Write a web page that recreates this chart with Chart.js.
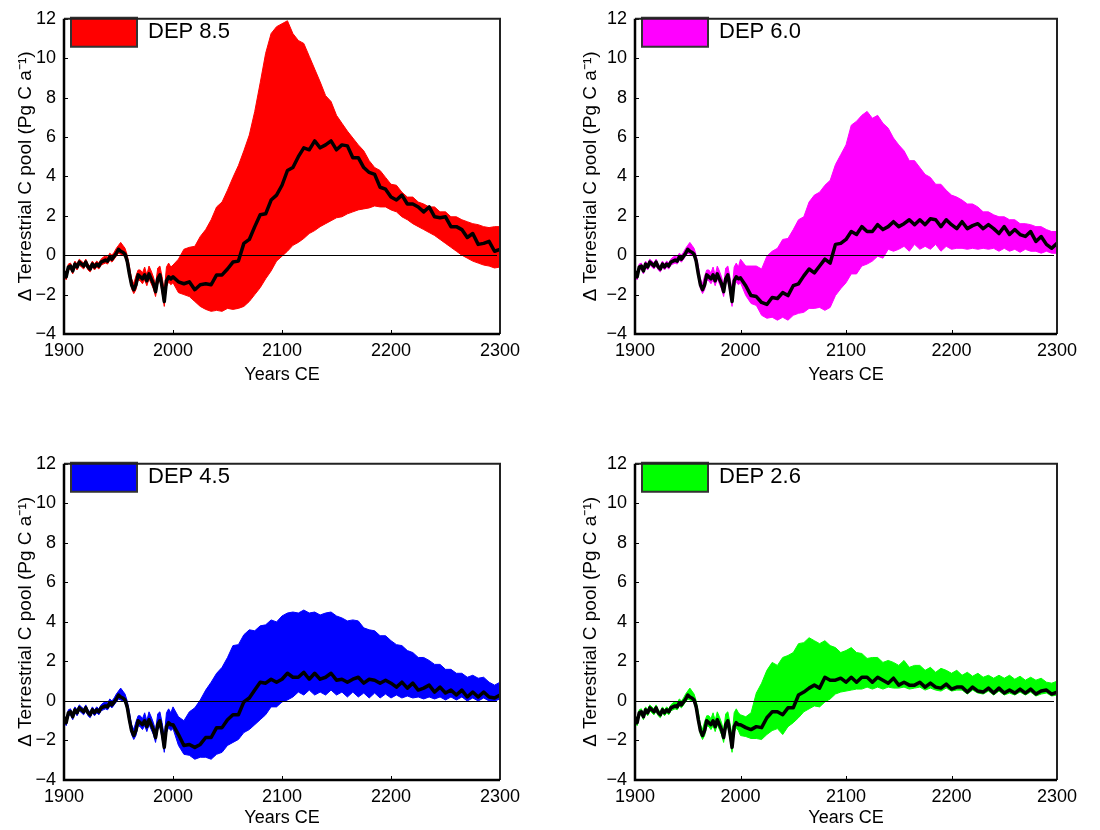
<!DOCTYPE html>
<html>
<head>
<meta charset="utf-8">
<script src="https://cdn.jsdelivr.net/npm/chart.js@4.4.1/dist/chart.umd.min.js"></script>
<style>
  html, body { margin: 0; padding: 0; background: #fff; }
  #wrap { position: relative; width: 1100px; height: 830px; overflow: hidden; }
  canvas { position: absolute; }
</style>
</head>
<body>
<div id="wrap">
  <canvas id="c85" width="550" height="420" style="left:0;top:0"></canvas>
  <canvas id="c60" width="540" height="420" style="left:560px;top:0"></canvas>
  <canvas id="c45" width="550" height="385" style="left:0;top:445px"></canvas>
  <canvas id="c26" width="540" height="385" style="left:560px;top:445px"></canvas>
</div>
<script>
// ── Data ──────────────────────────────────────────────────────────────────────
// Historical part (shared by all four scenarios), every 2 years
const HIST_YEARS = [1900,1902,1904,1906,1908,1910,1912,1914,1916,1918,1920,1922,1924,1926,1928,1930,1932,1934,1936,1938,
  1940,1942,1944,1946,1948,1950,1952,1954,1956,1958,1960,1962,1964,1966,1968,1970,1972,1974,1976,1978,
  1980,1982,1984,1986,1988,1990,1992,1994,1996,1998];
const HIST_MEAN  = [-0.85,-1.1,-0.6,-0.55,-0.8,-0.45,-0.6,-0.35,-0.45,-0.55,-0.35,-0.6,-0.7,-0.45,-0.6,-0.45,-0.55,-0.35,-0.3,-0.25,
  -0.3,-0.1,-0.2,-0.05,0.1,0.3,0.2,0.15,0.05,-0.3,-0.95,-1.5,-1.75,-1.5,-1.0,-1.1,-1.2,-1.0,-1.3,-0.95,
  -1.2,-1.45,-1.85,-1.2,-1.0,-1.6,-2.35,-1.3,-1.1,-1.2];
const HIST_UPPER = [-0.7,-0.95,-0.45,-0.4,-0.65,-0.3,-0.45,-0.2,-0.3,-0.4,-0.2,-0.45,-0.55,-0.3,-0.45,-0.3,-0.4,-0.2,-0.1,-0.05,
  -0.1,0.1,0.0,0.15,0.35,0.5,0.65,0.5,0.35,0.0,-0.55,-1.2,-1.45,-1.05,-0.75,-0.75,-0.9,-0.6,-1.0,-0.55,
  -0.8,-1.1,-1.5,-0.65,-0.55,-1.1,-1.8,-0.6,-0.4,-0.6];
const HIST_LOWER = [-1.0,-1.25,-0.75,-0.7,-0.95,-0.6,-0.75,-0.5,-0.6,-0.7,-0.5,-0.75,-0.85,-0.6,-0.75,-0.6,-0.7,-0.5,-0.45,-0.4,
  -0.45,-0.25,-0.35,-0.2,-0.05,0.1,0.05,0.0,-0.1,-0.5,-1.15,-1.7,-1.95,-1.75,-1.25,-1.3,-1.45,-1.25,-1.55,-1.2,
  -1.45,-1.7,-2.1,-1.45,-1.3,-1.9,-2.6,-1.6,-1.35,-1.5];

// Scenario part, every 5 years from 2000 to 2300
const FUT_YEARS = [2000,2005,2010,2015,2020,2025,2030,2035,2040,2045,2050,2055,2060,2065,2070,2075,2080,2085,2090,2095,
  2100,2105,2110,2115,2120,2125,2130,2135,2140,2145,2150,2155,2160,2165,2170,2175,2180,2185,2190,2195,
  2200,2205,2210,2215,2220,2225,2230,2235,2240,2245,2250,2255,2260,2265,2270,2275,2280,2285,2290,2295,2300];

const DEP85_MEAN  = [-1.1,-1.35,-1.45,-1.35,-1.75,-1.5,-1.45,-1.5,-1.0,-1.0,-0.7,-0.35,-0.3,0.6,0.8,1.45,2.05,2.1,2.8,3.05,
  3.55,4.3,4.45,5.0,5.45,5.35,5.8,5.45,5.6,5.8,5.35,5.6,5.55,4.95,4.95,4.45,4.2,4.1,3.45,3.35,
  2.95,2.8,3.05,2.6,2.6,2.45,2.2,2.45,1.95,1.9,1.95,1.45,1.45,1.3,0.9,1.1,0.55,0.6,0.7,0.2,0.3];
const DEP85_UPPER = [-0.5,-0.2,0.3,0.4,0.45,0.95,1.3,1.8,2.45,2.7,3.3,3.95,4.55,5.3,6.1,7.3,8.75,10.25,11.25,11.6,
  11.75,11.9,11.25,10.9,10.75,10.1,9.45,8.8,8.1,7.8,7.1,6.7,6.3,5.95,5.6,5.3,4.8,4.45,4.3,3.95,
  3.6,3.55,3.2,2.95,2.95,2.7,2.6,2.45,2.45,2.2,2.2,1.95,1.95,1.8,1.7,1.6,1.55,1.45,1.4,1.45,1.45];
const DEP85_LOWER = [-1.4,-1.9,-2.0,-2.1,-2.35,-2.6,-2.75,-2.85,-2.8,-2.85,-2.7,-2.75,-2.7,-2.6,-2.35,-2.0,-1.65,-1.2,-0.8,-0.3,
  -0.05,0.2,0.5,0.65,0.85,1.1,1.25,1.45,1.6,1.75,1.9,1.95,2.1,2.2,2.3,2.35,2.4,2.5,2.45,2.45,
  2.3,2.2,1.95,1.8,1.6,1.45,1.3,1.15,1.0,0.8,0.6,0.4,0.2,0.0,-0.15,-0.3,-0.4,-0.5,-0.55,-0.65,-0.6];

const DEP60_MEAN  = [-1.15,-1.55,-2.05,-2.1,-2.4,-2.5,-2.15,-2.2,-1.9,-2.05,-1.55,-1.45,-1.05,-0.7,-0.9,-0.55,-0.2,-0.4,0.55,0.6,
  0.8,1.2,1.05,1.45,1.2,1.2,1.55,1.3,1.45,1.7,1.45,1.6,1.8,1.55,1.8,1.55,1.85,1.8,1.45,1.8,
  1.55,1.35,1.7,1.35,1.5,1.6,1.35,1.55,1.35,1.1,1.45,1.05,1.3,1.05,0.95,1.2,0.7,0.95,0.55,0.35,0.6];
const DEP60_UPPER = [-0.2,-0.55,-0.55,-0.55,-0.7,-0.05,0.2,0.35,0.8,0.85,1.3,1.8,1.95,2.7,3.05,3.2,3.55,3.8,4.6,5.1,
  5.6,6.6,6.8,7.1,7.3,6.95,7.1,6.7,6.45,5.95,5.6,5.3,4.8,4.8,4.45,4.1,3.95,3.6,3.6,3.3,
  3.05,2.95,2.8,2.6,2.6,2.45,2.2,2.2,2.05,1.95,1.95,1.8,1.8,1.6,1.6,1.55,1.45,1.45,1.3,1.2,1.2];
const DEP60_LOWER = [-1.4,-2.05,-2.45,-2.55,-3.05,-3.2,-3.15,-3.3,-3.15,-3.3,-3.05,-2.95,-2.9,-2.7,-2.7,-2.65,-2.8,-2.65,-2.05,-1.7,
  -1.4,-0.95,-0.95,-0.55,-0.45,-0.3,-0.05,-0.15,0.3,0.2,0.3,0.45,0.2,0.55,0.3,0.45,0.3,0.55,0.2,0.45,
  0.3,0.35,0.35,0.3,0.35,0.3,0.35,0.3,0.35,0.2,0.35,0.2,0.3,0.15,0.3,0.2,0.2,0.1,0.2,0.1,0.1];

const DEP45_MEAN  = [-1.2,-1.7,-2.25,-2.2,-2.35,-2.2,-1.85,-1.85,-1.35,-1.35,-0.95,-0.7,-0.7,-0.05,0.15,0.55,0.95,0.9,1.1,0.95,
  1.1,1.4,1.2,1.2,1.45,1.1,1.4,1.1,1.2,1.4,1.05,1.1,0.95,1.1,1.2,0.9,1.1,1.05,0.9,1.05,
  0.9,0.7,0.95,0.65,0.9,0.55,0.65,0.8,0.45,0.7,0.4,0.55,0.3,0.55,0.2,0.45,0.2,0.45,0.2,0.15,0.3];
const DEP45_UPPER = [-0.3,-0.8,-1.0,-0.55,-0.35,0.05,0.55,0.95,1.4,1.7,2.2,2.8,2.85,3.35,3.6,3.55,3.8,3.85,4.1,4.0,
  4.3,4.45,4.5,4.45,4.6,4.45,4.5,4.35,4.45,4.5,4.3,4.2,4.05,4.1,4.05,3.7,3.6,3.55,3.3,3.3,
  3.05,2.85,2.8,2.55,2.45,2.2,2.2,2.05,1.85,1.85,1.6,1.6,1.4,1.4,1.2,1.3,1.15,1.2,0.95,0.8,0.95];
const DEP45_LOWER = [-1.4,-2.25,-2.7,-2.75,-2.95,-2.85,-2.85,-2.95,-2.7,-2.6,-2.25,-2.1,-1.95,-1.6,-1.45,-1.2,-0.95,-0.7,-0.3,-0.3,
  -0.05,0.05,0.2,0.45,0.3,0.55,0.3,0.45,0.3,0.55,0.3,0.45,0.2,0.45,0.2,0.4,0.15,0.4,0.15,0.35,
  0.15,0.3,0.15,0.25,0.15,0.2,0.1,0.2,0.1,0.2,0.05,0.2,0.05,0.2,0.0,0.15,0.0,0.15,0.0,0.0,0.1];

const DEP26_MEAN  = [-1.2,-1.35,-1.45,-1.3,-1.35,-0.85,-0.55,-0.55,-0.7,-0.35,-0.35,0.3,0.45,0.65,0.8,0.65,1.2,1.05,1.05,1.15,
  0.95,1.2,0.95,1.2,1.2,0.95,1.2,1.05,0.9,1.15,0.8,0.95,0.8,0.8,0.95,0.7,0.9,0.7,0.65,0.85,
  0.6,0.7,0.7,0.45,0.7,0.5,0.45,0.65,0.4,0.65,0.4,0.55,0.4,0.6,0.4,0.6,0.35,0.5,0.55,0.35,0.45];
const DEP26_UPPER = [-0.7,-0.8,-0.6,0.4,0.9,1.55,1.95,1.8,2.2,2.3,2.45,2.9,2.95,3.2,3.05,2.9,3.05,2.8,2.7,2.45,
  2.55,2.7,2.45,2.4,2.15,2.2,2.2,1.95,2.05,1.95,1.8,2.05,1.7,1.8,1.8,1.55,1.7,1.45,1.65,1.55,
  1.4,1.55,1.3,1.45,1.25,1.4,1.2,1.3,1.15,1.3,1.15,1.3,1.1,1.25,1.05,1.2,1.05,1.15,0.95,0.9,1.0];
const DEP26_LOWER = [-1.75,-1.8,-1.9,-1.9,-1.95,-1.7,-1.5,-1.4,-1.7,-1.3,-1.1,-0.85,-0.55,-0.4,-0.25,-0.3,-0.05,0.1,0.35,0.45,
  0.5,0.55,0.6,0.6,0.7,0.6,0.7,0.6,0.7,0.65,0.65,0.7,0.6,0.65,0.7,0.55,0.65,0.55,0.5,0.65,
  0.5,0.55,0.55,0.35,0.55,0.4,0.35,0.5,0.3,0.5,0.3,0.4,0.3,0.45,0.3,0.45,0.25,0.35,0.4,0.25,0.3];

const Y_TICKS = [-4, -2, 0, 2, 4, 6, 8, 10, 12];
const X_TICKS = [1900, 2000, 2100, 2200, 2300];

// ── Chart setup ───────────────────────────────────────────────────────────────
const FONT = "'Liberation Sans', Arial, Helvetica, sans-serif";
Chart.defaults.font.family = FONT;
Chart.defaults.color = "#000";

const YEARS = HIST_YEARS.concat(FUT_YEARS);
const pts = vals => YEARS.map((x, i) => ({ x, y: vals[i] }));

// frame, inward ticks and zero line
const framePlugin = {
  id: "frame",
  afterDatasetDraw(chart, args) {
    if (args.index !== 1) return;   // right after the envelope fill
    const { ctx, chartArea: a, scales: { y } } = chart;
    const y0 = Math.round(y.getPixelForValue(0)) + 0.5;
    ctx.save();
    ctx.strokeStyle = "#000";
    ctx.lineWidth = 1;
    ctx.beginPath();
    ctx.moveTo(a.left, y0);
    ctx.lineTo(a.right - 3, y0);
    ctx.stroke();
    ctx.restore();
  },
  afterDraw(chart) {
    const { ctx, chartArea: a, scales: { x, y } } = chart;
    ctx.save();
    ctx.strokeStyle = "#000";
    ctx.lineWidth = 1;
    x.ticks.forEach(t => {
      const px = Math.round(x.getPixelForValue(t.value)) + 0.5;
      ctx.beginPath(); ctx.moveTo(px, a.bottom); ctx.lineTo(px, a.bottom - 4); ctx.stroke();
    });
    y.ticks.forEach(t => {
      const py = Math.round(y.getPixelForValue(t.value)) + 0.5;
      ctx.beginPath(); ctx.moveTo(a.left, py); ctx.lineTo(a.left + 4, py); ctx.stroke();
    });
    ctx.strokeStyle = "#222";
    ctx.lineWidth = 2;
    ctx.beginPath();
    ctx.moveTo(a.left, a.top); ctx.lineTo(a.right, a.top); ctx.lineTo(a.right, a.bottom);
    ctx.stroke();
    ctx.strokeStyle = "#000";
    ctx.lineWidth = 2.5;
    ctx.beginPath();
    ctx.moveTo(a.left, a.top); ctx.lineTo(a.left, a.bottom); ctx.lineTo(a.right, a.bottom);
    ctx.stroke();
    ctx.restore();
  }
};

function makePanel(id, p) {
  const cfg = {
    type: "line",
    data: {
      datasets: [
        { label: "mean", data: pts(HIST_MEAN.concat(p.mean)), borderColor: "#000", borderWidth: 3.5,
          borderJoinStyle: "round", borderCapStyle: "round", pointRadius: 0, fill: false, tension: 0 },
        { label: p.label, data: pts(HIST_UPPER.concat(p.upper)), borderColor: p.color, borderWidth: 1,
          backgroundColor: p.color, pointRadius: 0, fill: "+1", tension: 0 },
        { label: "lower", data: pts(HIST_LOWER.concat(p.lower)), borderColor: p.color, borderWidth: 1,
          pointRadius: 0, fill: false, tension: 0 },
      ],
    },
    options: {
      responsive: false,
      animation: false,
      layout: { padding: { top: 13, left: 0, right: p.padRight, bottom: p.padBottom } },
      plugins: {
        tooltip: { enabled: false },
        legend: {
          position: "chartArea",
          align: "start",
          // an empty title only pushes the legend box down inside the plot area
          title: { display: true, text: " ", font: { size: 9 }, padding: 0 },
          labels: {
            boxWidth: 66, boxHeight: 29, padding: 7, color: "#000",
            font: { size: 22, family: FONT },
            generateLabels: () => [{ text: p.label, fillStyle: p.color, strokeStyle: "#333", lineWidth: 2,
              datasetIndex: 1, hidden: false }],
          },
        },
      },
      scales: {
        x: {
          type: "linear", min: 1900, max: 2300,
          afterBuildTicks: s => { s.ticks = X_TICKS.map(v => ({ value: v })); },
          afterFit: s => { s.height = p.xHeight; },
          grid: { display: false, drawTicks: false, tickLength: 0 },
          border: { display: false },
          ticks: { font: { size: 18 }, padding: 6, maxRotation: 0, color: "#000", callback: v => String(v) },
          title: { display: true, text: "Years CE", font: { size: 18 }, color: "#000",
                   padding: { top: 0, bottom: p.xTitlePad } },
        },
        y: {
          type: "linear", min: -4, max: 12,
          afterBuildTicks: s => { s.ticks = Y_TICKS.map(v => ({ value: v })); },
          afterFit: s => { s.width = p.yWidth; },
          grid: { display: false, drawTicks: false, tickLength: 0 },
          border: { display: false },
          ticks: { font: { size: 18 }, padding: 8, color: "#000",
                   callback: v => (v < 0 ? "\u2212" + (-v) : String(v)) },
          title: { display: true, text: "\u0394 Terrestrial C pool (Pg C a\u207B\u00B9)", font: { size: 19 },
                   color: "#000", padding: { top: p.yTitlePad, bottom: 0 } },
        },
      },
    },
    plugins: [framePlugin],
  };
  return new Chart(document.getElementById(id), cfg);
}

makePanel("c85", { label: "DEP 8.5", color: "#ff0000", mean: DEP85_MEAN, upper: DEP85_UPPER, lower: DEP85_LOWER,
  yWidth: 64, padRight: 50, xHeight: 52, padBottom: 34, xTitlePad: 0, yTitlePad: 14 });
makePanel("c60", { label: "DEP 6.0", color: "#ff00ff", mean: DEP60_MEAN, upper: DEP60_UPPER, lower: DEP60_LOWER,
  yWidth: 75, padRight: 43, xHeight: 52, padBottom: 34, xTitlePad: 0, yTitlePad: 19 });
makePanel("c45", { label: "DEP 4.5", color: "#0000ff", mean: DEP45_MEAN, upper: DEP45_UPPER, lower: DEP45_LOWER,
  yWidth: 64, padRight: 50, xHeight: 50, padBottom: 0, xTitlePad: 1, yTitlePad: 14 });
makePanel("c26", { label: "DEP 2.6", color: "#00ff00", mean: DEP26_MEAN, upper: DEP26_UPPER, lower: DEP26_LOWER,
  yWidth: 75, padRight: 43, xHeight: 50, padBottom: 0, xTitlePad: 1, yTitlePad: 19 });
</script>
</body>
</html>
